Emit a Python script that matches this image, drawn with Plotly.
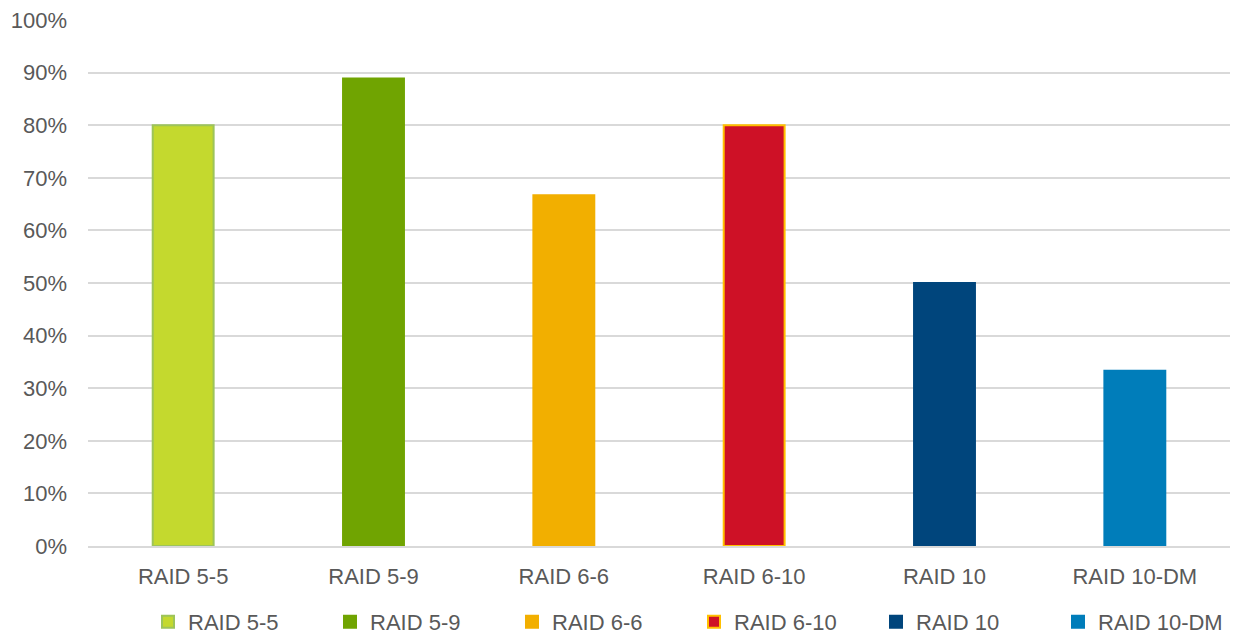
import plotly.graph_objects as go

categories = ["RAID 5-5", "RAID 5-9", "RAID 6-6", "RAID 6-10", "RAID 10", "RAID 10-DM"]
values = [0.80, 0.889, 0.667, 0.80, 0.50, 0.333]
fill_colors = ["#C4D92E", "#70A401", "#F2AF00", "#CE1126", "#00457C", "#007DBA"]
line_colors = ["#9DC45A", "#70A401", "#F2AF00", "#FFC000", "#00457C", "#007DBA"]
tick_vals = [i / 10 for i in range(11)]
tick_text = [f"{i * 10}%" for i in range(11)]

FS = 22
fig = go.Figure()
for cat, val, fc, lc in zip(categories, values, fill_colors, line_colors):
    fig.add_trace(go.Bar(
        x=[cat], y=[val], name=cat, width=0.32,
        marker=dict(color=fc, line=dict(color=lc, width=2)),
    ))

fig.update_layout(
    width=1241, height=634,
    barmode="overlay",
    plot_bgcolor="white", paper_bgcolor="white",
    margin=dict(l=88, r=11, t=20, b=88),
    font=dict(family="Liberation Sans, Arial, sans-serif", size=FS, color="#595959"),
    xaxis=dict(categoryorder="array", categoryarray=categories, automargin=False,
               showgrid=False, showline=True, linecolor="#D9D9D9", linewidth=2,
               ticks="", ticklabelstandoff=10, tickfont=dict(size=FS, color="#595959")),
    yaxis=dict(range=[0, 1.0], tickvals=tick_vals, ticktext=tick_text, automargin=False,
               showgrid=True, gridcolor="#D9D9D9", gridwidth=2,
               zeroline=False, showline=False, ticks="", ticklabelstandoff=20,
               tickfont=dict(size=FS, color="#595959")),
    legend=dict(orientation="h", xref="container", yref="container",
                x=148 / 1241, xanchor="left", y=12 / 634, yanchor="middle",
                font=dict(size=FS, color="#595959"),
                entrywidth=137, entrywidthmode="pixels", traceorder="normal"),
)
fig.write_html("out.html")
